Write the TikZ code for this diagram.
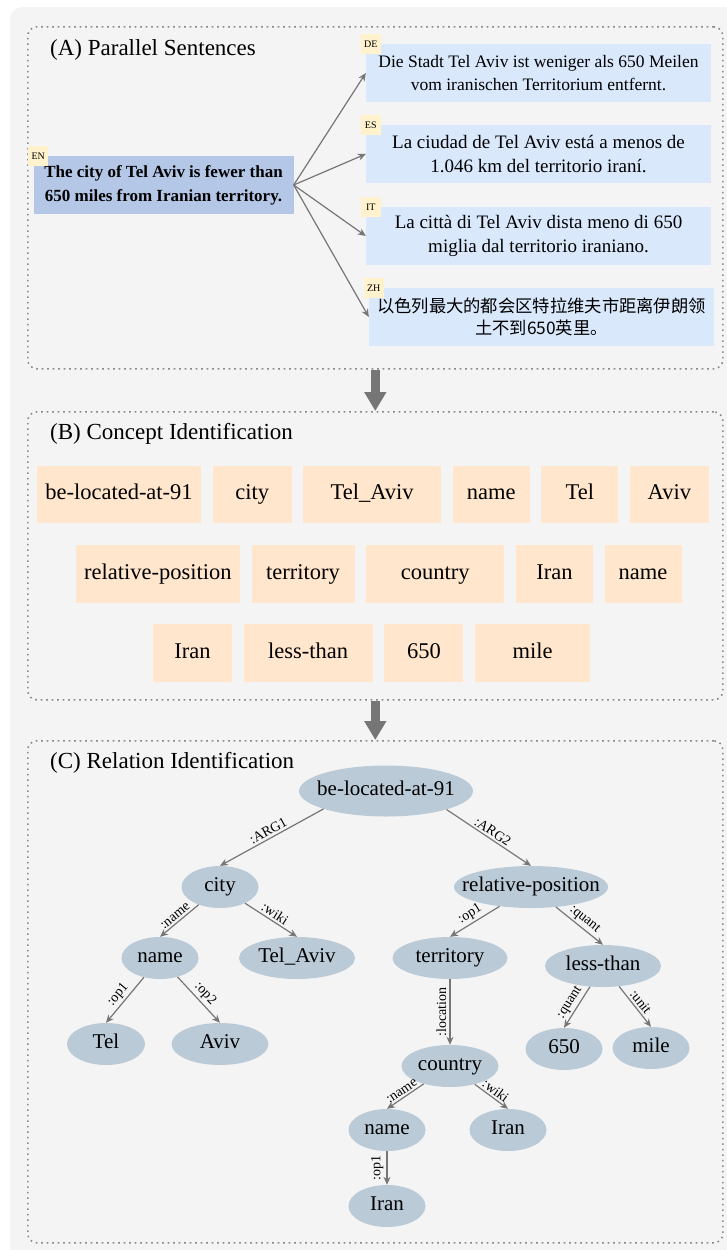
\documentclass[tikz,border=0pt]{standalone}
\usepackage{fontspec}
\setmainfont{Liberation Serif}
\newfontfamily\cjkfont{Noto Sans CJK SC}
\usetikzlibrary{shapes.geometric,arrows.meta,positioning}
\definecolor{bgray}{HTML}{F4F4F4}
\definecolor{dotgray}{HTML}{8A8A8A}
\definecolor{arrowgray}{HTML}{767676}
\definecolor{enblue}{HTML}{B4C7E7}
\definecolor{sentblue}{HTML}{DAE8FC}
\definecolor{tagyellow}{HTML}{FFF2CC}
\definecolor{conpeach}{HTML}{FFE6CC}
\definecolor{amrblue}{HTML}{BACAD7}
\newcommand{\setfs}[2]{\fontsize{#1}{#2}\selectfont}
\tikzset{
  >=Stealth,
  panel/.style={draw=dotgray,line width=1.6pt,dash pattern=on 1.6pt off 3.9pt,rounded corners=9pt,minimum width=695pt,inner sep=0pt},
  paneltitle/.style={anchor=base west,font=\setfs{23}{27},inner sep=0pt},
  src/.style={fill=enblue,minimum width=260pt,minimum height=58pt,align=center,font=\bfseries\setfs{17}{24},inner sep=0pt},
  tgt/.style={fill=sentblue,minimum width=345pt,minimum height=58pt,align=center,inner sep=0pt},
  langtag/.style={fill=tagyellow,minimum size=20pt,inner sep=0pt,font=\setfs{10}{10}},
  concept/.style={fill=conpeach,minimum height=57.5pt,inner sep=0pt,text height=15.5pt,text depth=4.9pt,font=\setfs{22.5}{26}},
  amr/.style={ellipse,fill=amrblue,minimum height=42pt,inner xsep=-40pt,inner ysep=0pt,text height=14.5pt,text depth=4.6pt,font=\setfs{21}{25}},
  rel/.style={draw=arrowgray,line width=1.2pt,-{Stealth[length=8pt,width=7pt]}},
  lbl/.style={font=\setfs{14}{14},sloped,above,inner sep=2pt},
  vlbl/.style={font=\setfs{14}{14},rotate=90,anchor=south,inner sep=3pt},
  bigarrow/.style={draw=arrowgray,line width=9pt,-{Triangle[width=21pt,length=19pt]}}
}
\begin{document}
\begin{tikzpicture}[x=1pt,y=1pt,node distance=11.3pt]
\useasboundingbox (0,0) rectangle (726,-1250);
\fill[bgray,rounded corners=12pt] (10,-7) rectangle (760,-1290);
% panels
\node[panel,anchor=north west,minimum height=342pt] (pA) at (27,-26) {};
\node[panel,anchor=north west,minimum height=288pt] (pB) at (27,-411) {};
\node[panel,anchor=north west,minimum height=502pt] (pC) at (27,-740) {};
\draw[bigarrow] (pA.south) -- (pB.north);
\draw[bigarrow] (pB.south) -- (pC.north);

% (A) parallel sentences
\node[paneltitle] (tA) at (50,-55) {(A) Parallel Sentences};
\node[src] (en) at (163.5,-185) {The city of Tel Aviv is fewer than\\650 miles from Iranian territory.};
\node[tgt,font=\setfs{17.5}{23}] (de) at (538.5,-73) {Die Stadt Tel Aviv ist weniger als 650 Meilen\\vom iranischen Territorium entfernt.};
\node[tgt,font=\setfs{19}{23.5}] (es) at (538.5,-154) {La ciudad de Tel Aviv está a menos de\\1.046 km del territorio iraní.};
\node[tgt,font=\setfs{19}{23.5}] (it) at (538.5,-236) {La città di Tel Aviv dista meno di 650\\miglia dal territorio iraniano.};
\node[tgt,font=\cjkfont\setfs{17.3}{22.5}] (zh) at (541.5,-317) {以色列最大的都会区特拉维夫市距离伊朗领\\土不到650英里。};
\foreach \s/\t in {en/EN,de/DE,es/ES,it/IT,zh/ZH}
  \node[langtag,xshift=5pt] (tag\t) at (\s.north west) {\t};
\foreach \t in {de,es,it,zh}
  \draw[rel] (en.east) -- (\t.west);

% (B) concept identification
\node[paneltitle] (tB) at (50,-439) {(B) Concept Identification};
\node[concept,minimum width=164pt] (c1) at (119,-494.5) {be-located-at-91};
\node[concept,minimum width=79pt,right=of c1] (c2) {city};
\node[concept,minimum width=137.6pt,right=of c2] (c3) {Tel\_Aviv};
\node[concept,minimum width=77pt,right=of c3] (c4) {name};
\node[concept,minimum width=77pt,right=of c4] (c5) {Tel};
\node[concept,minimum width=78.6pt,right=of c5] (c6) {Aviv};
\node[concept,minimum width=164pt] (c7) at (157.8,-574) {relative-position};
\node[concept,minimum width=103pt,right=of c7] (c8) {territory};
\node[concept,minimum width=138pt,right=of c8] (c9) {country};
\node[concept,minimum width=77pt,right=of c9] (c10) {Iran};
\node[concept,minimum width=77pt,right=of c10] (c11) {name};
\node[concept,minimum width=79pt] (c12) at (192.5,-653) {Iran};
\node[concept,minimum width=129pt,right=of c12] (c13) {less-than};
\node[concept,minimum width=79pt,right=of c13] (c14) {650};
\node[concept,minimum width=115pt,right=of c14] (c15) {mile};

% (C) relation identification
\node[paneltitle] (tC) at (50,-768) {(C) Relation Identification};
\node[amr,minimum width=174pt,minimum height=51pt] (root) at (386,-791) {be-located-at-91};
\node[amr,minimum width=77pt] (city) at (220,-887) {city};
\node[amr,minimum width=77pt] (name1) at (160,-958) {name};
\node[amr,minimum width=116pt] (telaviv) at (297,-958) {Tel\_Aviv};
\node[amr,minimum width=78pt] (tel) at (106,-1044) {Tel};
\node[amr,minimum width=97pt] (aviv) at (220,-1044) {Aviv};
\node[amr,minimum width=154pt] (relpos) at (531,-887) {relative-position};
\node[amr,minimum width=115pt] (territory) at (450,-958) {territory};
\node[amr,minimum width=116pt] (lessthan) at (603,-966) {less-than};
\node[amr,minimum width=77pt] (q650) at (564,-1049) {650};
\node[amr,minimum width=77pt] (mile) at (651,-1048) {mile};
\node[amr,minimum width=97pt] (country) at (450,-1066) {country};
\node[amr,minimum width=77pt] (name2) at (387,-1130) {name};
\node[amr,minimum width=77pt] (iran1) at (508,-1130) {Iran};
\node[amr,minimum width=77pt] (iran2) at (387,-1206) {Iran};
\draw[rel] (root.-164) -- (city.north) node[lbl,midway] {:ARG1};
\draw[rel] (root.-17) -- (relpos.north) node[lbl,midway] {:ARG2};
\draw[rel] (city) -- (name1.north) node[lbl,midway] {:name};
\draw[rel] (city) -- (telaviv.north) node[lbl,midway] {:wiki};
\draw[rel] (name1) -- (tel.north) node[lbl,midway] {:op1};
\draw[rel] (name1) -- (aviv.north) node[lbl,midway] {:op2};
\draw[rel] (relpos) -- (territory.north) node[lbl,midway] {:op1};
\draw[rel] (relpos) -- (lessthan.north) node[lbl,midway] {:quant};
\draw[rel] (territory) -- (country) node[vlbl,midway] {:location};
\draw[rel] (lessthan) -- (q650.north) node[lbl,midway] {:quant};
\draw[rel] (lessthan) -- (mile.north) node[lbl,midway] {:unit};
\draw[rel] (country) -- (name2.north) node[lbl,midway] {:name};
\draw[rel] (country) -- (iran1.north) node[lbl,midway] {:wiki};
\draw[rel] (name2) -- (iran2) node[vlbl,midway] {:op1};
\end{tikzpicture}
\end{document}
